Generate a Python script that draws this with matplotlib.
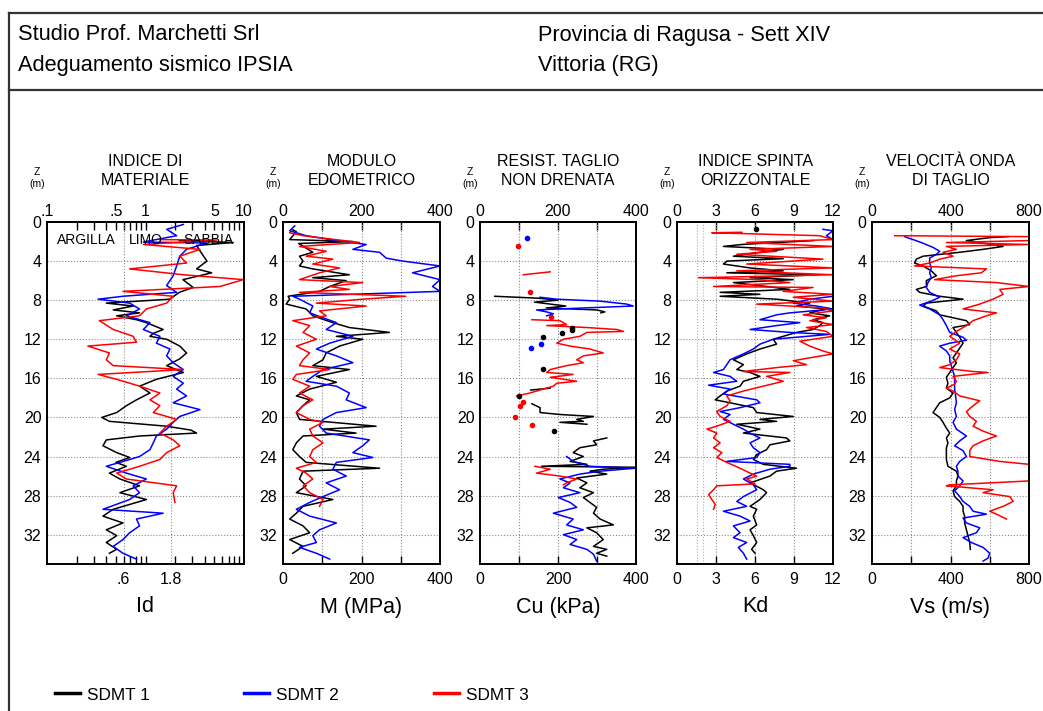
import numpy as np
import matplotlib
matplotlib.use("Agg")
import matplotlib.pyplot as plt
from matplotlib.lines import Line2D
from matplotlib.ticker import NullFormatter

plt.rcParams['font.family'] = ['Liberation Sans', 'DejaVu Sans']

nan = np.nan

# ---- Indice di materiale (Id) ----
id_z1 = [1.9, 2.1, 2.4, 3.0, 4.0, 4.8, 5.2, 5.9, 6.7, 7.2, 7.9, 8.3, 8.6, 9.0, 9.3, 9.6, 10.0, 10.3,
         11.0, 11.4, 11.7, 12.0, 12.7, 13.4, 14.0, 14.7, 15.4, 16.1, 16.8, 17.5, 18.2, 18.8, 19.5,
         20.0, 20.4, 20.9, 21.3, 21.6, 21.9, 22.3, 22.9, 23.6, 24.1, 24.6, 25.0, 25.7, 26.3, 27.0,
         27.7, 28.4, 28.7, 29.4, 30.1, 30.8, 31.5, 32.1, 32.8, 33.5, 33.9]
id_v1 = [2.2, 7.8, 3.3, 3.6, 4.2, 3.3, 4.7, 2.4, 3.05, 2.2, 1.77, 0.40, 0.75, 0.47, 0.87, 0.51, 0.81, 1.02,
         1.51, 1.2, 1.11, 1.64, 2.23, 2.61, 2.23, 1.64, 2.42, 1.29, 0.87, 1.11, 0.81, 0.64, 0.51,
         0.36, 0.43, 1.64, 2.9, 3.3, 0.87, 0.40, 0.37, 0.51, 0.69, 0.50, 0.64, 0.43, 0.55, 0.87,
         0.55, 1.02, 0.81, 0.47, 0.37, 0.59, 0.40, 0.51, 0.40, 0.51, 0.43]
id_z2 = [0.25, 0.75, 1.4, 2.05, 2.15, 2.8, 3.5, 4.5, 5.5, 6.5, 7.2, 7.6, 7.9, 8.3, 8.9, 9.6, 10.3, 11.0,
         11.7, 12.4, 13.0, 13.7, 14.4, 15.1, 15.8, 16.5, 17.1, 17.8, 18.5, 19.2, 19.9, 20.5, 21.2,
         21.9, 22.6, 23.3, 24.0, 24.6, 25.0, 25.7, 26.3, 27.0, 27.7, 28.4, 29.4, 29.8, 30.4, 31.1,
         31.8, 32.5, 33.2, 33.9, 34.5]
id_v2 = [2.42, 1.64, 2.07, 0.95, 4.17, 2.61, 2.23, 2.07, 1.91, 1.64, 2.07, 0.59, 0.33, 0.69, 0.87, 0.64, 1.11, 0.95,
         1.40, 1.29, 1.77, 1.64, 1.91, 2.42, 1.91, 2.42, 2.07, 2.61, 1.91, 3.57, 2.23, 1.91, 1.64,
         1.29, 1.20, 1.11, 0.87, 0.55, 0.40, 0.64, 1.02, 0.75, 0.87, 0.69, 0.37, 1.51, 0.81, 0.87,
         0.69, 0.59, 0.47, 0.59, 0.81]
id_z3 = [1.8, 1.85, 2.3, 2.8, 3.5, 4.2, 4.8, 5.4, 5.9, 6.6, 7.1, 7.6, 8.3, 8.9, 9.6, 10.1, 11.0, 11.7,
         12.3, 12.7, 13.4, 14.1, 14.7, 15.1, 15.6, 16.1, 16.8, 17.5, 18.2, 18.8, 19.5, 20.2, 20.9,
         21.6, 22.3, 22.9, 23.6, 24.3, 25.0, 25.7, 26.3, 27.0, 27.7, 28.7]
id_v3 = [1.40, 5.27, 0.95, 3.57, 2.23, 2.61, 0.69, 2.42, 9.85, 5.70, 0.59, 1.91, 1.64, 1.02, 0.87, 0.34, 0.47, 0.75,
         0.81, 0.26, 0.43, 0.40, 0.47, 2.42, 0.33, 0.51, 0.87, 1.40, 1.11, 1.40, 1.20, 2.07, 1.64,
         1.40, 1.91, 2.23, 1.64, 1.40, 0.87, 0.51, 0.64, 2.07, 1.91, 1.99]

# ---- Modulo edometrico M (MPa) ----
m_z1 = [0.8, 1.0, 1.8, 2.0, 2.2, 3.1, 3.5, 4.0, 4.5, 4.8, 5.4, 5.7, 6.0, 6.6, 7.1, 7.6, 7.9, 8.4, 8.9,
        9.6, 10.3, 10.8, 11.3, 11.7, 12.0, 12.7, 13.4, 14.1, 14.7, 15.1, 15.8, 16.4, 17.1, 17.8,
        18.2, 18.8, 19.5, 20.2, 20.9, 21.2, 21.6, 21.9, 22.6, 23.3, 24.0, 24.6, 25.2, 25.5, 26.3,
        27.0, 27.7, 28.4, 29.1, 29.8, 30.4, 31.1, 31.8, 32.5, 33.2, 33.9]
m_v1 = [25, 34, 17, 178, 40, 76, 42, 51, 42, 76, 169, 76, 161, 119, 93, 13, 17, 8, 59,
        76, 127, 169, 271, 136, 203, 144, 110, 102, 76, 169, 85, 136, 68, 34,
        68, 51, 34, 42, 237, 102, 186, 51, 34, 25, 42, 59, 246, 51, 42,
        59, 34, 127, 51, 34, 17, 51, 68, 17, 51, 25]
m_z2 = [0.4, 0.9, 1.4, 1.9, 2.3, 2.8, 3.1, 3.7, 4.0, 4.5, 5.2, 5.9, 6.6, 7.1, 7.6, 7.9, 8.6, 9.3, 9.8,
        10.3, 11.0, 11.7, 12.4, 13.0, 13.7, 14.4, 15.1, 15.8, 16.3, 16.8, 17.5, 18.2, 19.0, 19.5,
        20.2, 20.9, 21.6, 22.3, 22.9, 23.6, 24.1, 24.6, 25.3, 26.0, 26.7, 27.4, 28.1, 28.7, 29.4,
        30.1, 30.8, 31.5, 32.1, 32.8, 33.3, 33.9, 34.5]
m_v2 = [30, 17, 59, 136, 212, 178, 246, 263, 305, 400, 330, 400, 381, 400, 25, 42, 76, 68, 102,
        136, 110, 178, 119, 85, 136, 178, 102, 76, 59, 136, 169, 161, 212, 136,
        102, 93, 110, 220, 203, 178, 229, 136, 127, 161, 110, 144, 102, 68, 34,
        68, 136, 93, 76, 85, 42, 85, 119]
m_z3 = [1.1, 1.4, 2.1, 2.5, 3.0, 3.5, 3.8, 4.3, 4.7, 5.2, 5.9, 6.2, 6.6, 6.9, 7.2, 7.6, 7.9, 8.3, 8.6,
        9.1, 9.6, 10.1, 10.6, 11.3, 12.0, 12.7, 13.4, 14.1, 14.7, 15.1, 15.6, 16.1, 16.8, 17.5,
        18.2, 18.8, 19.5, 20.2, 20.5, 21.2, 21.9, 22.6, 23.3, 24.0, 24.6, 25.2, 25.7, 26.3, 27.0,
        27.7, 28.4, 29.1]
m_v3 = [17, 51, 195, 42, 110, 59, 127, 76, 144, 93, 42, 203, 119, 169, 42, 313, 203, 85, 212,
        93, 110, 25, 68, 51, 85, 34, 68, 51, 42, 119, 34, 25, 68, 42,
        76, 51, 34, 68, 102, 68, 76, 102, 76, 68, 85, 34, 59, 76, 51,
        68, 102, 93]

# ---- Resistenza al taglio non drenata Cu (kPa) ----
cu_z1 = [7.6, 7.8, 8.0, 8.2, 8.4, 8.6, 8.8, 9.0, 9.2, 9.3, nan,
         17.0, 17.2, nan,
         18.6, 19.0, 19.5, 19.7, 19.9, 20.2, 20.4, 20.5, 20.7, nan,
         22.1, 22.4, 22.8, 23.1, 23.6, 24.0, 24.5, 24.8, 25.0, 25.1, 25.3, 25.5, 25.8, 26.2, 26.7,
         27.2, 27.7, 28.2, 28.7, 29.2, 29.8, 30.4, 31.0, 31.3, 31.8, 32.5, 33.2, 33.5, 33.9, 34.2]
cu_v1 = [38, 150, 200, 140, 180, 220, 170, 300, 320, 310, nan,
         180, 130, nan,
         133, 154, 154, 205, 291, 248, 265, 205, 274, nan,
         325, 291, 299, 256, 239, 265, 231, 274, 158, 398, 316, 282, 325, 248, 274,
         256, 291, 265, 282, 299, 291, 308, 342, 274, 299, 316, 291, 325, 299, 325]
cu_z2 = [7.7, 7.9, 8.1, 8.4, 8.6, 8.8, 9.0, 9.2, 9.4, 9.6, nan,
         24.0, 24.5, 25.0, 25.2, 25.5, 25.8, 26.3, 26.7, 27.2, 27.7, 28.2, 28.7, 29.2, 29.8, 30.4,
         31.0, 31.5, 32.0, 32.5, 33.0, 33.5, 34.0, 34.7]
cu_v2 = [154, 197, 308, 376, 393, 265, 145, 171, 188, 171, nan,
         222, 239, 282, 398, 308, 256, 205, 231, 214, 256, 201, 231, 248, 188, 239,
         222, 265, 214, 248, 231, 274, 291, 299]
cu_z3 = [5.1, 5.4, nan,
         10.0, 10.1, 10.5, 10.6, 10.8, 11.0, 11.2, 11.3, 11.7, 12.0, 12.4, 12.7, 13.0, 13.4, 13.7,
         14.1, 14.4, 14.7, 15.1, 15.4, 15.6, 15.9, 16.3, 16.5, 16.8, 17.1, 17.5, 17.8, nan,
         25.0, 25.3, 25.7, 26.0, 26.3, 26.7, 26.9]
cu_v3 = [180, 111, nan,
         133, 205, 222, 171, 274, 351, 368, 274, 256, 214, 197, 231, 282, 316, 265,
         248, 265, 222, 180, 171, 239, 180, 248, 197, 188, 162, 128, 94, nan,
         141, 180, 145, 205, 248, 222, 214]
# single-point readings
cu_pz1 = [11.8, 11.4, 10.8, 11.1, 15.0, 17.8, 21.4]
cu_pv1 = [162, 209, 237, 237, 161, 100, 190]
cu_pz2 = [1.6, 12.9, 12.5]
cu_pv2 = [120, 132, 156]
cu_pz3 = [2.5, 7.2, 9.7, 18.4, 18.8, 20.0, 20.8]
cu_pv3 = [98, 127, 182, 111, 103, 91, 133]

# ---- Indice di spinta orizzontale Kd ----
kd_z1 = [1.9, 2.3, 2.5, 2.8, 3.1, 3.5, 3.75, 4.0, 4.3, 4.7, 5.0, 5.2, 5.4, 5.7, 5.9, 6.2, 6.6, 6.9,
         7.2, 7.4, 7.6, 7.9, 8.3, 8.6, 8.9, 9.3, 9.6, 10.0, 10.3, 10.6, 11.0, 11.3, 11.7, 12.0,
         12.5, 13.0, 13.5, 14.1, 14.6, 15.1, 15.4, 15.8, 16.3, 16.8, 17.3, 17.8, 18.2, 18.5, 19.0,
         19.5, 19.9, 20.2, 20.4, 20.7, 21.2, 21.6, 22.1, 22.4, 22.8, 23.3, 23.8, 24.3, 24.8, 25.2,
         25.5, 26.0, 26.7, 27.4, 27.7, 28.4, 29.1, 29.4, 30.1, 31.0, 31.5, 32.1, 32.8, 33.5, 33.9]
kd_v1 = [10.5, 5.0, 3.57, 8.17, 6.38, 4.34, 8.17, 3.83, 3.57, 5.62, 8.17, 3.83, 10.72, 5.62, 8.94, 4.34, 6.89, 8.68,
         3.32, 6.38, 3.32, 7.66, 10.21, 9.19, 11.49, 10.21, 11.74, 10.47, 11.23, 10.98, 10.47, 9.19, 8.17, 7.40,
         7.66, 6.38, 5.36, 4.34, 5.11, 4.60, 5.62, 6.38, 5.11, 4.85, 3.83, 3.32, 2.94, 4.08, 5.87,
         6.13, 8.94, 6.38, 7.66, 4.60, 6.38, 5.11, 8.42, 8.68, 7.15, 6.89, 6.13, 5.87, 6.64, 9.19,
         7.66, 7.15, 5.62, 6.64, 6.89, 6.38, 5.62, 6.13, 5.87, 6.13, 5.62, 5.87, 6.13, 5.74, 6.0]
kd_pz1 = [0.7]
kd_pv1 = [6.05]
kd_z2 = [0.75, 0.9, 1.4, 1.8, nan,
         7.6, 7.9, 8.3, 8.6, 8.9, 9.3, 9.5, 10.0, 10.3, 10.6, 11.0, 11.3, 11.5, 12.0, 12.5, 13.0,
         13.5, 14.1, 14.6, 15.1, 15.4, 15.8, 16.3, 16.7, 17.1, 17.6, 18.2, 18.5, 19.0, 19.4, 19.7,
         20.2, 20.7, 21.2, 21.6, 22.1, 22.6, 23.1, 23.6, 24.1, 24.5, 24.8, 25.0, 25.3, 25.8, 26.3,
         26.9, 27.4, 28.1, 28.6, 29.1, 29.6, 30.1, 30.6, 31.1, 31.8, 32.3, 32.8, 33.3, 33.9, 34.5]
kd_v2 = [11.23, 12.0, 11.49, 12.0, nan,
         12.0, 10.21, 8.94, 10.72, 12.0, 8.68, 7.66, 6.38, 9.45, 7.66, 5.62, 8.68, 11.74, 7.40, 6.38, 5.87,
         5.11, 4.08, 3.83, 3.57, 2.81, 4.08, 4.60, 2.43, 4.08, 3.57, 6.13, 6.38, 4.85, 3.32, 4.08,
         3.57, 4.34, 5.11, 5.62, 6.38, 5.62, 5.87, 6.38, 6.13, 3.83, 8.68, 8.68, 7.15, 5.87, 5.11,
         5.87, 6.13, 5.11, 4.60, 5.36, 3.57, 4.85, 5.62, 4.34, 4.85, 4.34, 5.36, 4.72, 5.11, 5.36]
kd_z3 = [1.05, 1.1, 1.4, 1.8, 2.1, 2.5, 2.8, 3.0, 3.3, 3.8, 4.3, 4.7, 5.0, 5.4, 5.7, 5.9, 6.2, 6.6,
         6.7, 7.1, 7.4, 7.7, 8.1, 8.4, 8.8, 9.1, 9.5, 9.8, 10.1, 10.5, 10.8, 11.2, 11.7, 12.2, 12.7,
         13.2, 13.5, 13.9, 14.2, 14.6, 14.9, 15.3, 15.4, 15.8, 16.3, 16.8, 17.3, 17.8, 18.3, 18.8,
         19.4, 19.9, 20.4, 20.9, 21.2, 21.6, 22.1, 22.6, 23.1, 23.6, 24.1, 24.6, 25.2, 25.7, 26.0,
         26.3, 26.8, 27.0, 27.4, 27.9, 28.4, 28.9, 29.4]
kd_v3 = [4.98, 2.68, 10.98, 12.0, 5.36, 12.0, 5.62, 7.66, 4.60, 11.23, 5.36, 12.0, 4.60, 12.0, 1.66, 6.38, 8.68, 2.81,
         10.47, 8.17, 12.0, 8.94, 12.0, 6.13, 11.23, 12.0, 9.70, 11.49, 10.21, 12.0, 9.96, 11.49, 12.0, 9.45, 10.21,
         11.23, 12.0, 10.21, 8.94, 9.96, 7.66, 5.11, 8.68, 6.89, 8.17, 6.64, 5.11, 3.83, 4.08, 3.83,
         3.06, 3.32, 4.08, 3.06, 2.30, 3.06, 2.81, 3.32, 2.81, 3.45, 3.06, 3.83, 4.85, 5.62, 6.13,
         5.36, 6.0, 3.06, 2.81, 2.43, 2.68, 2.94, 2.81]

# ---- Velocita onda di taglio Vs (m/s) ----
vs_z1 = [1.5, 1.6, 1.9, 2.1, 2.5, 2.8, 3.1, 3.5, 3.8, 4.2, 4.5, 5.0, 5.5, 6.0, 6.6, 6.9, 7.2, 7.6, 7.9,
         8.3, 8.6, 9.1, 9.5, 9.8, 10.1, 10.5, 10.8, 11.3, 11.8, 12.4, 12.9, 13.4, 13.9, 14.4, 14.9,
         15.4, 15.9, 16.5, 17.0, 17.5, 18.0, 18.5, 19.0, 19.5, 20.0, 20.5, 21.1, 21.6, 22.1, 22.6,
         23.1, 23.6, 24.3, 25.0, 25.5, 26.0, 26.5, 27.0, 27.5, 28.1, 28.6, 29.1, 29.6, 30.1, 30.8,
         31.5, 32.1, 32.8, 33.5]
vs_v1 = [693, 600, 481, 549, 668, 566, 447, 260, 226, 217, 260, 302, 328, 277, 277, 226, 243, 345, 464,
         277, 260, 328, 345, 413, 481, 498, 413, 430, 447, 464, 447, 430, 413, 430, 413,
         396, 379, 387, 379, 413, 396, 345, 328, 311, 345, 362, 379, 396, 379, 387,
         379, 379, 379, 387, 430, 438, 430, 430, 413, 421, 447, 464, 464, 472, 472,
         481, 489, 498, 501]
vs_z2 = [1.5, 1.8, 2.1, 2.6, 3.0, 3.3, 3.7, 4.2, 4.7, 5.2, 5.7, 6.2, 6.7, 7.2, 7.7, 8.1, 8.5, 8.9, 9.5,
         10.0, 10.6, 11.3, 11.8, 12.1, 12.4, 12.7, 13.2, 13.7, 14.2, 14.7, 15.3, 15.8, 16.5, 17.1,
         17.8, 18.5, 19.2, 19.9, 20.5, 21.2, 21.9, 22.4, 22.9, 23.4, 24.0, 24.5, 25.0, 25.5, 26.0,
         26.5, 27.0, 27.5, 28.1, 28.6, 29.1, 29.6, 29.9, 30.3, 30.8, 31.3, 31.8, 32.3, 32.8, 33.3,
         33.9, 34.4, 34.7]
vs_v2 = [166, 209, 251, 311, 345, 328, 294, 294, 302, 294, 302, 285, 277, 294, 345, 302, 243, 294, 345,
         362, 379, 396, 464, 481, 396, 345, 379, 396, 396, 404, 413, 421, 421, 421,
         426, 430, 421, 430, 413, 430, 481, 447, 421, 464, 481, 447, 430, 438, 438,
         464, 447, 421, 447, 464, 498, 515, 583, 464, 481, 549, 532, 464, 506, 566,
         600, 591, 566]
vs_z3 = [1.4, 1.5, 1.9, 2.1, 2.3, 2.5, 2.8, 3.1, 3.5, 3.8, 4.2, 4.5, 4.8, 5.2, 5.5, 5.9, 6.2, 6.6, 6.9,
         7.4, 7.9, 8.4, 8.9, 9.3, 9.6, 10.1, 10.6, 11.2, 11.7, 12.4, 13.0, 13.5, 14.1, 14.6, 14.9,
         15.3, 15.4, 15.8, 16.3, 16.6, 17.0, 17.3, 17.8, 18.3, 18.8, 19.4, 19.9, 20.4, 20.9, 21.4,
         21.9, 22.4, 22.9, 23.4, 24.0, 24.5, 24.8, 26.5, 26.9, 27.0, 27.4, 27.7, 28.1, 28.6, 29.1,
         29.6, 29.9, 30.4]
vs_v3 = [116, 800, 800, 379, 800, 379, 430, 362, 413, 345, 294, 217, 583, 557, 430, 319, 634, 800, 651,
         668, 617, 549, 464, 634, 583, 515, 481, 430, 396, 447, 396, 447, 430, 396, 345,
         515, 591, 413, 430, 421, 379, 413, 447, 549, 515, 481, 498, 532, 515, 566,
         634, 566, 515, 498, 498, 651, 800, 800, 396, 379, 617, 566, 702, 719, 668,
         600, 634, 685]

series_names = ["SDMT 1", "SDMT 2", "SDMT 3"]
series_colors = ["#000000", "#0000ff", "#ff0000"]

titles = ["INDICE DI\nMATERIALE", "MODULO\nEDOMETRICO", "RESIST. TAGLIO\nNON DRENATA",
          "INDICE SPINTA\nORIZZONTALE", "VELOCITÀ ONDA\nDI TAGLIO"]
xlabels = ["Id", "M (MPa)", "Cu (kPa)", "Kd", "Vs (m/s)"]
depth_ticks = [0, 4, 8, 12, 16, 20, 24, 28, 32]

W, H = 1043, 711
fig = plt.figure(figsize=(W / 100, H / 100), dpi=100)


def fx(px):
    return px / W


def fy(py):
    return 1 - py / H


# header frame
line_kw = dict(color="#333333", lw=1.6, transform=fig.transFigure)
fig.add_artist(Line2D([fx(9), 1], [fy(13), fy(13)], **line_kw))
fig.add_artist(Line2D([fx(9), 1], [fy(90), fy(90)], **line_kw))
fig.add_artist(Line2D([fx(9), fx(9)], [fy(13), 0], **line_kw))
hdr = dict(fontsize=15.7, va="center", ha="left")
fig.text(fx(18), fy(35), "Studio Prof. Marchetti Srl", **hdr)
fig.text(fx(18), fy(65), "Adeguamento sismico IPSIA", **hdr)
fig.text(fx(538), fy(35), "Provincia di Ragusa - Sett XIV", **hdr)
fig.text(fx(538), fy(65), "Vittoria (RG)", **hdr)

TOP, BOT = 222, 564
panels_px = [(47, 244), (283, 440), (480, 636), (677, 833), (872, 1029)]
GRID = dict(color="#8c8c8c", linestyle=":", linewidth=0.8)
TICK_FS = 11.5

axes = []
for i, (l, r) in enumerate(panels_px):
    ax = fig.add_axes([fx(l), fy(BOT), (r - l) / W, (BOT - TOP) / H])
    ax.set_ylim(35, 0)
    ax.set_yticks(depth_ticks)
    ax.tick_params(axis="y", length=0, labelsize=TICK_FS, pad=4)
    ax.yaxis.grid(True, **GRID)
    for s in ax.spines.values():
        s.set_linewidth(1.4)
    axes.append(ax)
    cx = (l + r) / 2
    fig.text(fx(cx), fy(171), titles[i], ha="center", va="center",
             fontsize=11.5, linespacing=1.35)
    fig.text(fx(l - 10), fy(178), "Z\n(m)", ha="center", va="center",
             fontsize=7.5, linespacing=1.25)
    fig.text(fx(cx), fy(607), xlabels[i], ha="center", va="center", fontsize=15.5)


def x_scales(ax, lim, bottom_labels, bottom_texts, top_labels, top_texts, tick_vals,
             log=False):
    """bottom labels on ax, top labels on a secondary axis; inward ticks on both edges"""
    if log:
        ax.set_xscale("log")
    ax.set_xlim(*lim)
    ax.xaxis.remove_overlapping_locs = False
    ax.set_xticks(bottom_labels)
    ax.set_xticklabels(bottom_texts)
    ax.set_xticks(tick_vals, minor=True)
    ax.xaxis.set_minor_formatter(NullFormatter())
    ax.tick_params(axis="x", which="major", length=0, labelsize=TICK_FS, pad=6)
    ax.tick_params(axis="x", which="minor", direction="in", length=6, width=1,
                   bottom=True, top=False)
    sec = ax.secondary_xaxis("top")
    sec.xaxis.remove_overlapping_locs = False
    sec.set_xticks(top_labels)
    sec.set_xticklabels(top_texts)
    sec.set_xticks(tick_vals, minor=True)
    sec.xaxis.set_minor_formatter(NullFormatter())
    sec.tick_params(axis="x", which="major", length=0, labelsize=TICK_FS, pad=2)
    sec.tick_params(axis="x", which="minor", direction="in", length=6, width=1,
                    color="black")
    sec.spines["top"].set_linewidth(1.4)
    return sec


LW = 1.1

# Id panel (log)
ax = axes[0]
minor_id = [0.2, 0.3, 0.4, 0.5, 0.6, 0.7, 0.8, 0.9, 1, 2, 3, 4, 5, 6, 7, 8, 9]
x_scales(ax, (0.1, 10), [0.6, 1.8], [".6", "1.8"],
         [0.1, 0.5, 1, 5, 10], [".1", ".5", "1", "5", "10"], minor_id, log=True)
ax.xaxis.grid(True, which="major", **GRID)
for txt, xf in [("ARGILLA", 0.198), ("LIMO", 0.503), ("SABBIA", 0.817)]:
    ax.text(xf, 0.947, txt, transform=ax.transAxes, ha="center", va="center", fontsize=10)
for z, v, c in [(id_z1, id_v1, series_colors[0]), (id_z2, id_v2, series_colors[1]),
                (id_z3, id_v3, series_colors[2])]:
    ax.plot(v, z, color=c, lw=LW)

# M panel
ax = axes[1]
x_scales(ax, (0, 400), [0, 200, 400], ["0", "200", "400"],
         [0, 200, 400], ["0", "200", "400"], [100, 200, 300])
ax.xaxis.grid(True, which="minor", **GRID)
for z, v, c in [(m_z1, m_v1, series_colors[0]), (m_z2, m_v2, series_colors[1]),
                (m_z3, m_v3, series_colors[2])]:
    ax.plot(v, z, color=c, lw=LW)

# Cu panel
ax = axes[2]
x_scales(ax, (0, 400), [0, 200, 400], ["0", "200", "400"],
         [0, 200, 400], ["0", "200", "400"], [100, 200, 300])
ax.xaxis.grid(True, which="minor", **GRID)
for z, v, c in [(cu_z1, cu_v1, series_colors[0]), (cu_z2, cu_v2, series_colors[1]),
                (cu_z3, cu_v3, series_colors[2])]:
    ax.plot(v, z, color=c, lw=LW)
for z, v, c in [(cu_pz1, cu_pv1, series_colors[0]), (cu_pz2, cu_pv2, series_colors[1]),
                (cu_pz3, cu_pv3, series_colors[2])]:
    ax.plot(v, z, "o", color=c, ms=3, lw=0)

# Kd panel
ax = axes[3]
x_scales(ax, (0, 12), [0, 3, 6, 9, 12], ["0", "3", "6", "9", "12"],
         [0, 3, 6, 9, 12], ["0", "3", "6", "9", "12"], [3, 6, 9])
ax.xaxis.grid(True, which="minor", **GRID)
for xv in [1.5, 2]:
    ax.axvline(xv, color="#b0b0b0", linestyle=":", linewidth=0.8)
for z, v, c in [(kd_z1, kd_v1, series_colors[0]), (kd_z2, kd_v2, series_colors[1]),
                (kd_z3, kd_v3, series_colors[2])]:
    ax.plot(v, z, color=c, lw=LW)
ax.plot(kd_pv1, kd_pz1, "o", color=series_colors[0], ms=3)

# Vs panel
ax = axes[4]
x_scales(ax, (0, 800), [0, 400, 800], ["0", "400", "800"],
         [0, 400, 800], ["0", "400", "800"], [200, 400, 600])
ax.xaxis.grid(True, which="minor", **GRID)
for z, v, c in [(vs_z1, vs_v1, series_colors[0]), (vs_z2, vs_v2, series_colors[1]),
                (vs_z3, vs_v3, series_colors[2])]:
    ax.plot(v, z, color=c, lw=LW)

# legend
handles = [Line2D([], [], color=c, lw=2.5) for c in series_colors]
fig.legend(handles, series_names, loc="center left", bbox_to_anchor=(fx(55), fy(695)),
           ncol=3, frameon=False, fontsize=12.4, handlelength=1.45, handletextpad=0.4,
           columnspacing=5.5, borderpad=0, borderaxespad=0)

fig.savefig("out.png", dpi=100)
